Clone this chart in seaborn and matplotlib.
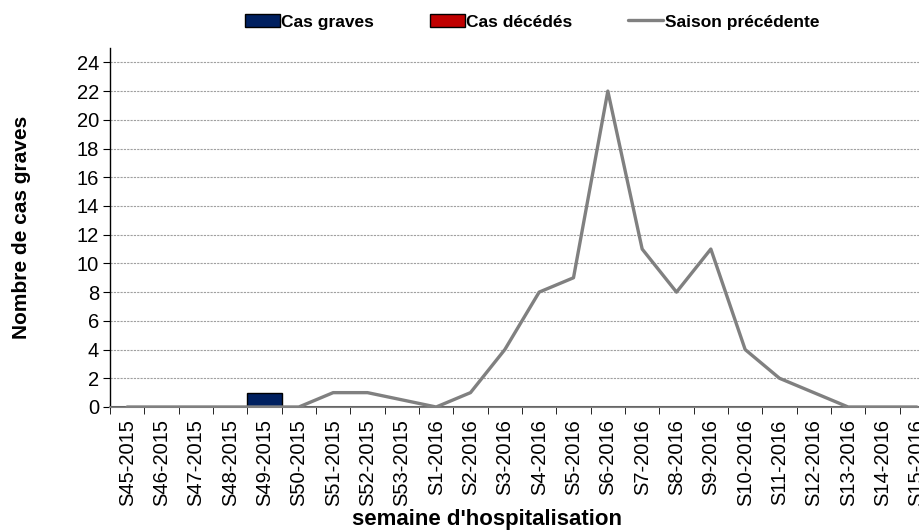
import numpy as np
import pandas as pd
import matplotlib
matplotlib.use("Agg")
import matplotlib.pyplot as plt
import seaborn as sns
from matplotlib.patches import Patch
from matplotlib.lines import Line2D

# data
weeks = ["S45-2015", "S46-2015", "S47-2015", "S48-2015", "S49-2015", "S50-2015",
         "S51-2015", "S52-2015", "S53-2015", "S1-2016", "S2-2016", "S3-2016",
         "S4-2016", "S5-2016", "S6-2016", "S7-2016", "S8-2016", "S9-2016",
         "S10-2016", "S11-2016", "S12-2016", "S13-2016", "S14-2016", "S15-2016"]
cas_graves = [0, 0, 0, 0, 1, 0, 0, 0, 0, 0, 0, 0, 0, 0, 0, 0, 0, 0, 0, 0, 0, 0, 0, 0]
cas_deces = [0] * 24
saison_prec = [0, 0, 0, 0, 0, 0, 1, 1, 0.5, 0, 1, 4, 8, 9, 22, 11, 8, 11, 4, 2, 1, 0, 0, 0]

df = pd.DataFrame({"semaine": weeks, "graves": cas_graves,
                   "deces": cas_deces, "prec": saison_prec})

sns.set_style("white")
plt.rcParams['font.family'] = ['Liberation Sans', 'DejaVu Sans']
plt.rcParams['text.color'] = 'black'
plt.rcParams['xtick.color'] = 'black'
plt.rcParams['ytick.color'] = 'black'

fig = plt.figure(figsize=(9.2, 5.31), dpi=100)
# axes run past the right edge, like the original
ax = fig.add_axes([110 / 920, 1 - 407 / 531, 824 / 920, (407 - 48) / 531])

# bars (full category width)
sns.barplot(data=df, x="semaine", y="graves", color="#002060", width=1.0,
            edgecolor="black", linewidth=1.0, ax=ax, zorder=3, saturation=1)
sns.barplot(data=df, x="semaine", y="deces", color="#C00000", width=1.0,
            edgecolor="black", linewidth=0, ax=ax, zorder=3, saturation=1)

# previous season line
sns.lineplot(x=np.arange(len(weeks)), y=df["prec"], color="#808080",
             linewidth=2.4, ax=ax, zorder=4)

ax.set_xlim(-0.5, len(weeks) - 0.5)
ax.set_ylim(0, 25)
ax.set_yticks(np.arange(0, 25, 2))
ax.tick_params(axis="y", labelsize=14.5, length=5, direction="out", left=True, pad=3)
ax.set_xticks(np.arange(len(weeks)))
ax.set_xticklabels(weeks, rotation=90, fontsize=14.5)
ax.tick_params(axis="x", length=0, pad=9)
# category boundary ticks
ax.set_xticks(np.arange(len(weeks) + 1) - 0.5, minor=True)
ax.tick_params(axis="x", which="minor", length=5, direction="out", bottom=True,
               color="black")

ax.grid(axis="y", linestyle=(0, (2, 1)), color="#a0a0a0", linewidth=0.8, zorder=0)
ax.grid(axis="x", visible=False)
ax.set_axisbelow(True)

for s in ["top", "right"]:
    ax.spines[s].set_visible(False)
ax.spines["left"].set_color("black")
ax.spines["bottom"].set_color("#808080")
ax.spines["left"].set_linewidth(1.0)
ax.spines["bottom"].set_linewidth(1.5)

ax.set_xlabel("")
ax.set_ylabel("")
fig.text(487 / 920, 1 - 519 / 531, "semaine d'hospitalisation", fontsize=16,
         fontweight="bold", ha="center", va="center")
fig.text(22 / 920, 1 - 227 / 531, "Nombre de cas graves", fontsize=15,
         fontweight="bold", ha="center", va="center", rotation=90)

handles = [Patch(facecolor="#002060", edgecolor="black", label="Cas graves"),
           Patch(facecolor="#C00000", edgecolor="black", label="Cas décédés"),
           Line2D([0], [0], color="#808080", linewidth=2.4, label="Saison précédente")]
fig.legend(handles=handles, loc="center", bbox_to_anchor=(532 / 920, 1 - 22 / 531),
           ncol=3, frameon=False, prop={"weight": "bold", "size": 12.5},
           handlelength=2.0, handletextpad=0.1, columnspacing=3.2)

fig.savefig("out.png", dpi=100)
